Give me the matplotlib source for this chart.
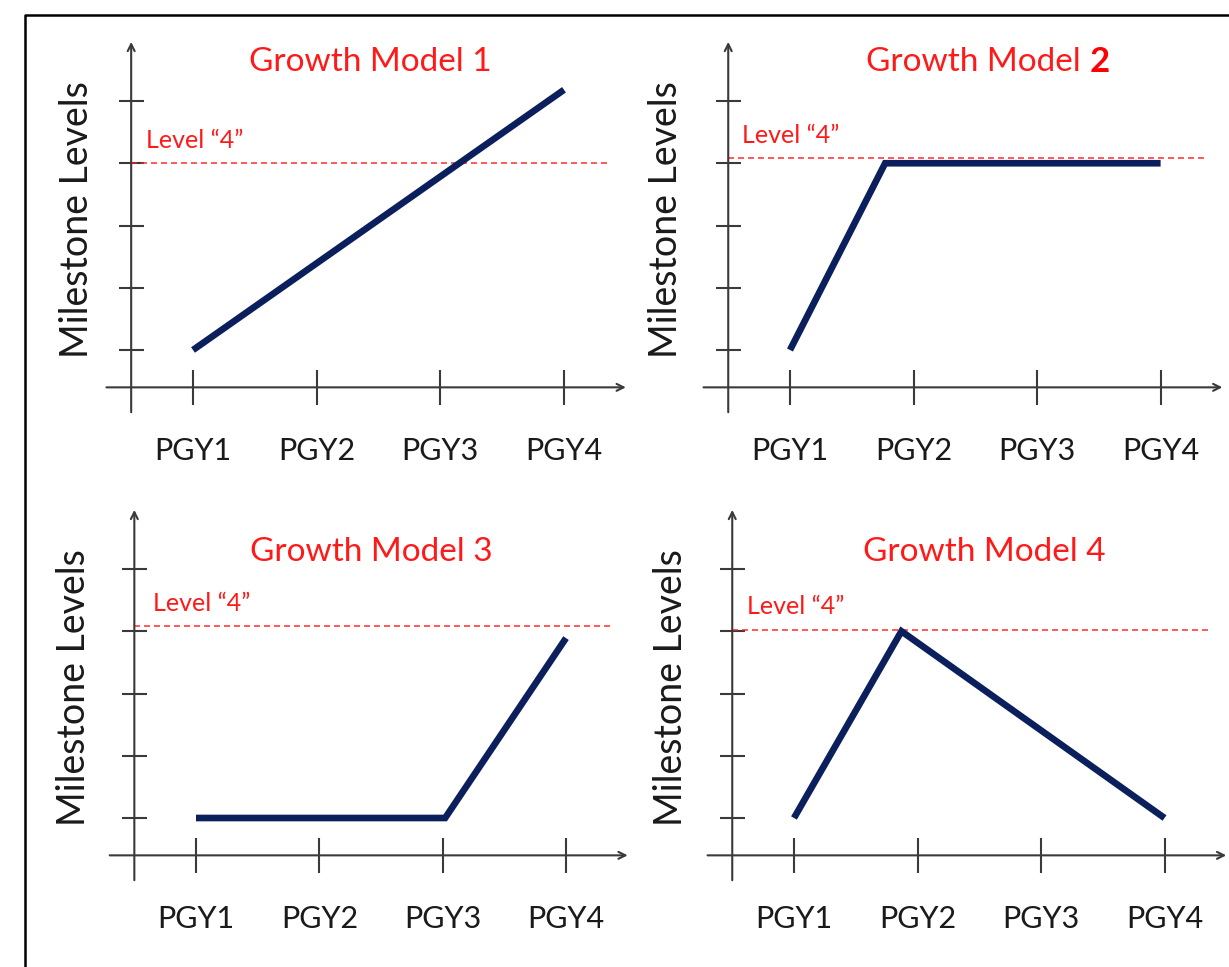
import matplotlib
matplotlib.use("Agg")
import matplotlib.pyplot as plt
from matplotlib.lines import Line2D

plt.rcParams['font.family'] = ['Lato', 'DejaVu Sans']
plt.rcParams['lines.scale_dashes'] = False

# ---- data ----
categories = ["PGY1", "PGY2", "PGY3", "PGY4"]
levels = [1, 2, 3, 4, 5]
titles = ["Growth Model 1", "Growth Model ", "Growth Model 3", "Growth Model 4"]
title_bold_suffix = ["", "2", "", ""]
ylabel = "Milestone Levels"
level_label = "Level \u201c4\u201d"

m1_x = [1, 4]
m1_y = [1, 5.18]
m2_x = [1, 1.77, 4]
m2_y = [1, 4.0, 4.0]
m3_x = [1, 3.02, 4]
m3_y = [1, 1, 3.89]
m4_x = [1, 1.87, 4]
m4_y = [1, 4.0, 1]
model_x = [m1_x, m2_x, m3_x, m4_x]
model_y = [m1_y, m2_y, m3_y, m4_y]
level4_y = [4.0, 4.08, 4.08, 4.02]

# ---- layout (pixel anchors of x=1/x=4 and y=1/y=5 per panel) ----
W, H = 1229, 967
fig = plt.figure(figsize=(W / 100, H / 100), dpi=100)
anchors = [
    (193, 564, 350, 101),
    (790, 1160.6, 350, 101),
    (196, 566, 818, 569),
    (794, 1164.5, 818, 569),
]
title_pos = [(2.43, 5.63), (2.6, 5.63), (2.42, 5.27), (2.54, 5.27)]
lvl_pos = [(0.62, 4.37), (0.61, 4.45), (0.65, 4.45), (0.62, 4.40)]
ylab_x = [0.06, 0.0, 0.01, 0.0]

XMIN, XMAX, YMIN, YMAX = -0.6, 4.7, -1.2, 6.2
AX_COL = "#3a3a3a"
LINE_COL = "#0b1f5c"
RED = "#ff1a1a"
TITLE_FS = 24
TICK_FS = 22
YLAB_FS = 27
LVL_FS = 18

for i, (x1, x4, y1, y5) in enumerate(anchors):
    sx = (x4 - x1) / 3.0
    sy = (y1 - y5) / 4.0
    left_px = x1 + (XMIN - 1) * sx
    right_px = x1 + (XMAX - 1) * sx
    bottom_px = y1 + (1 - YMIN) * sy
    top_px = y1 - (YMAX - 1) * sy
    ax = fig.add_axes([left_px / W, 1 - bottom_px / H,
                       (right_px - left_px) / W, (bottom_px - top_px) / H])
    ax.set_xlim(XMIN, XMAX)
    ax.set_ylim(YMIN, YMAX)
    ax.axis("off")

    # axes with arrows
    ax.annotate("", xy=(0.5, 5.95), xytext=(0.5, 0.0),
                arrowprops=dict(arrowstyle="->,head_length=0.5,head_width=0.25",
                                color=AX_COL, lw=1.5, shrinkA=0, shrinkB=0))
    ax.annotate("", xy=(4.5, 0.4), xytext=(0.3, 0.4),
                arrowprops=dict(arrowstyle="->,head_length=0.5,head_width=0.25",
                                color=AX_COL, lw=1.5, shrinkA=0, shrinkB=0))
    # y ticks
    for lv in levels:
        ax.plot([0.4, 0.6], [lv, lv], color=AX_COL, lw=1.5, solid_capstyle="butt")
    # x ticks and labels
    for k, cat in enumerate(categories):
        xv = k + 1
        ax.plot([xv, xv], [0.12, 0.68], color=AX_COL, lw=1.5, solid_capstyle="butt")
        ax.text(xv, -0.62, cat, ha="center", va="center", fontsize=TICK_FS,
                color="#1a1a1a")

    # level 4 dashed line
    ax.plot([0.5, 4.38], [level4_y[i], level4_y[i]], color=RED, lw=1.2,
            dashes=(4.3, 2.9), alpha=0.85)
    ax.text(lvl_pos[i][0], lvl_pos[i][1], level_label, ha="left", va="center",
            fontsize=LVL_FS, color=RED)

    # model line
    ax.plot(model_x[i], model_y[i], color=LINE_COL, lw=4.8,
            solid_capstyle="butt", solid_joinstyle="miter")

    # y label
    ax.text(ylab_x[i], 3.09, ylabel, rotation=90, ha="center", va="center",
            fontsize=YLAB_FS, color="#1a1a1a")

    # title
    tx, ty = title_pos[i]
    if title_bold_suffix[i]:
        t1 = ax.text(tx, ty, titles[i], ha="left", va="center",
                     fontsize=TITLE_FS, color=RED)
        t2 = ax.text(tx, ty, title_bold_suffix[i], ha="left", va="center",
                     fontsize=TITLE_FS + 1, color="#ff0000", fontweight="bold")
        fig.canvas.draw()
        r = fig.canvas.get_renderer()
        w1 = t1.get_window_extent(r).width
        w2 = t2.get_window_extent(r).width
        cx = ax.transData.transform((tx, ty))[0]
        inv = ax.transData.inverted()
        start = cx - (w1 + w2) / 2.0
        t1.set_x(inv.transform((start, 0))[0])
        t2.set_x(inv.transform((start + w1, 0))[0])
    else:
        ax.text(tx, ty, titles[i], ha="center", va="center",
                fontsize=TITLE_FS, color=RED)

# outer frame (top and left edges)
fig.add_artist(Line2D([24.5 / W, 24.5 / W, 1.0], [0.0, 1 - 15 / H, 1 - 15 / H],
                      transform=fig.transFigure, color="black", lw=1.8))

fig.savefig("out.png", dpi=100, facecolor="white")
